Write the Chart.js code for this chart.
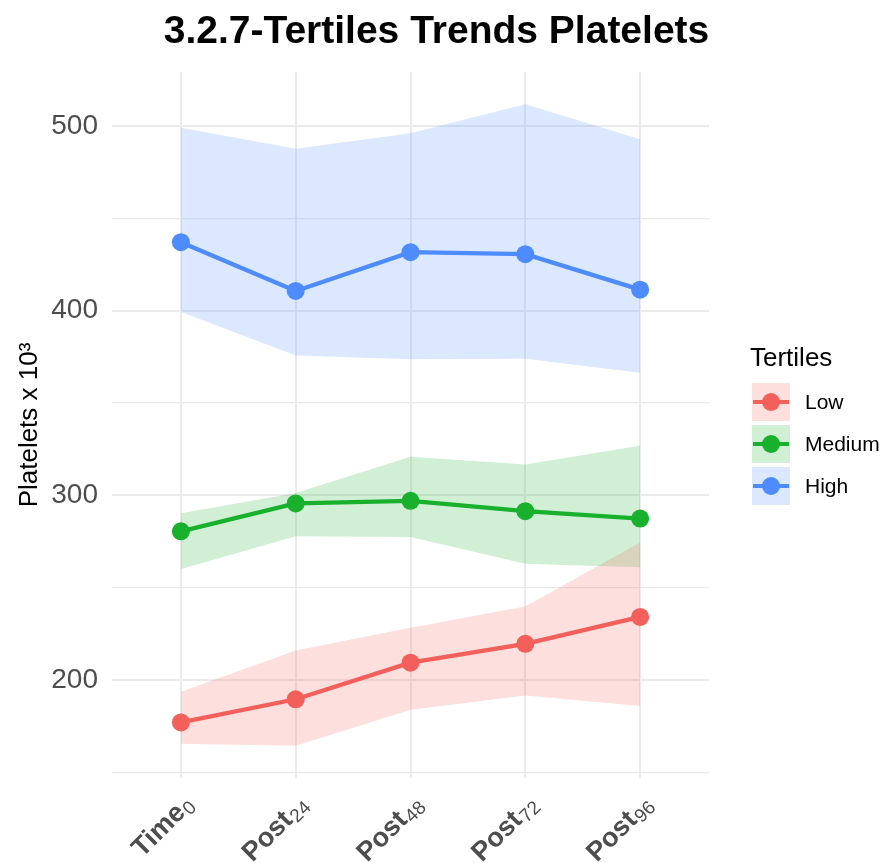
<!DOCTYPE html>
<html>
<head>
<meta charset="utf-8">
<script src="https://cdn.jsdelivr.net/npm/chart.js@4.4.1/dist/chart.umd.min.js"></script>
<style>
  html, body { margin: 0; padding: 0; background: #ffffff; }
  #wrap { width: 881px; height: 863px; position: relative; }
</style>
</head>
<body>
<div id="wrap"><canvas id="c"></canvas></div>
<script>
// ---- data ----
const categories = ['Time', 'Post', 'Post', 'Post', 'Post'];
const categorySubs = ['0', '24', '48', '72', '96'];
const seriesNames = ['Low', 'Medium', 'High'];
const lowMean  = [177.2, 189.7, 209.5, 219.7, 234.3];
const lowUpper = [193.8, 216.1, 228.4, 239.9, 274.6];
const lowLower = [165.7, 164.6, 184.1, 191.7, 186.1];
const medMean  = [280.6, 295.7, 297.1, 291.5, 287.5];
const medUpper = [290.4, 301.4, 320.9, 316.8, 326.9];
const medLower = [260.2, 277.9, 277.6, 263.0, 261.2];
const highMean  = [437.1, 410.7, 431.7, 430.6, 411.4];
const highUpper = [499.1, 487.7, 496.0, 511.8, 492.8];
const highLower = [399.3, 375.8, 373.8, 374.0, 366.4];
const yTickValues = [150, 200, 250, 300, 350, 400, 450, 500];

// ---- styles ----
const lineColors = ['#F35F5A', '#18B02D', '#4D8BFF'];
const ribbonColors = ['rgba(243,95,90,0.2)', 'rgba(24,176,45,0.2)', 'rgba(77,139,255,0.2)'];
const FONT = '"Liberation Sans", Arial, Helvetica, sans-serif';

const toXY = arr => arr.map((v, i) => ({ x: i + 1, y: v }));
const means = [lowMean, medMean, highMean];
const uppers = [lowUpper, medUpper, highUpper];
const lowers = [lowLower, medLower, highLower];

const datasets = [];
means.forEach((m, k) => {
  datasets.push({
    label: seriesNames[k], data: toXY(m),
    borderColor: lineColors[k], backgroundColor: lineColors[k],
    borderWidth: 4.3, pointRadius: 9, pointBorderWidth: 0,
    pointBackgroundColor: lineColors[k], fill: false, tension: 0
  });
});
uppers.forEach((u, k) => {
  datasets.push({
    label: seriesNames[k] + ' upper', data: toXY(u),
    borderWidth: 0, pointRadius: 0, borderColor: 'rgba(0,0,0,0)',
    backgroundColor: ribbonColors[k], fill: '+1', tension: 0
  });
  datasets.push({
    label: seriesNames[k] + ' lower', data: toXY(lowers[k]),
    borderWidth: 0, pointRadius: 0, borderColor: 'rgba(0,0,0,0)',
    backgroundColor: ribbonColors[k], fill: false, tension: 0
  });
});

const xLabelPlugin = {
  id: 'xLabels',
  afterDraw(chart) {
    const ctx = chart.ctx;
    const xs = chart.scales.x;
    const yTop = chart.chartArea.bottom + 14;
    ctx.save();
    ctx.fillStyle = '#4D4D4D';
    categories.forEach((lab, i) => {
      const px = xs.getPixelForValue(i + 1);
      ctx.save();
      ctx.translate(px, yTop);
      ctx.rotate(-Math.PI / 4);
      ctx.textBaseline = 'alphabetic';
      ctx.textAlign = 'left';
      const mainFont = 'bold 27px ' + FONT;
      const subFont = '19px ' + FONT;
      ctx.font = subFont;
      const sw = ctx.measureText(categorySubs[i]).width;
      ctx.font = mainFont;
      const mw = ctx.measureText(lab).width;
      const capH = 19.5;
      ctx.fillText(lab, -(sw + mw + 1), capH);
      ctx.font = subFont;
      ctx.fillText(categorySubs[i], -sw, capH + 4);
      ctx.restore();
    });
    ctx.restore();
  }
};

const legendPlugin = {
  id: 'customLegend',
  afterDraw(chart) {
    const ctx = chart.ctx;
    ctx.save();
    ctx.fillStyle = '#000000';
    ctx.font = '26px ' + FONT;
    ctx.textBaseline = 'alphabetic';
    ctx.textAlign = 'left';
    ctx.fillText('Tertiles', 750, 366);
    const keyX = 752, keyW = 38, keyH = 38;
    const keyTops = [383, 425, 467];
    seriesNames.forEach((name, k) => {
      const top = keyTops[k];
      const cy = top + keyH / 2;
      ctx.fillStyle = ribbonColors[k];
      ctx.fillRect(keyX, top, keyW, keyH);
      ctx.strokeStyle = lineColors[k];
      ctx.lineWidth = 4;
      ctx.beginPath();
      ctx.moveTo(keyX + 1, cy);
      ctx.lineTo(keyX + keyW - 1, cy);
      ctx.stroke();
      ctx.fillStyle = lineColors[k];
      ctx.beginPath();
      ctx.arc(keyX + keyW / 2, cy, 9, 0, Math.PI * 2);
      ctx.fill();
      ctx.fillStyle = '#000000';
      ctx.font = '21px ' + FONT;
      ctx.textBaseline = 'middle';
      ctx.fillText(name, 805, cy + 1);
    });
    ctx.restore();
  }
};

new Chart(document.getElementById('c'), {
  type: 'line',
  data: { datasets },
  plugins: [xLabelPlugin, legendPlugin],
  options: {
    responsive: true,
    maintainAspectRatio: false,
    animation: false,
    layout: { padding: { left: 0, right: 8, top: 0, bottom: 0 } },
    plugins: {
      legend: { display: false },
      tooltip: { enabled: false },
      title: {
        display: true,
        text: '3.2.7-Tertiles Trends Platelets',
        color: '#000000',
        font: { family: FONT, size: 39, weight: 'bold', lineHeight: 1.2 },
        padding: { top: 9, bottom: 16.2 }
      }
    },
    scales: {
      x: {
        type: 'linear', min: 0.4, max: 5.6,
        afterBuildTicks: s => { s.ticks = categories.map((c, i) => ({ value: i + 1 })); },
        afterFit: s => { s.height = 85; },
        ticks: { display: false },
        grid: { color: '#EBEBEB', lineWidth: 2, drawTicks: false },
        border: { display: false }
      },
      y: {
        type: 'linear', min: 147.1, max: 529.2,
        afterBuildTicks: s => { s.ticks = yTickValues.map(v => ({ value: v })); },
        afterFit: s => { s.width = 112; },
        ticks: {
          callback: v => (v % 100 === 0 ? String(v) : ''),
          color: '#4D4D4D', padding: 14,
          font: { family: FONT, size: 28 }
        },
        grid: {
          color: '#EBEBEB', drawTicks: false,
          lineWidth: c => (c.tick && c.tick.value % 100 === 0 ? 2 : 1.3)
        },
        border: { display: false },
        title: {
          display: true, text: 'Platelets x 10³', color: '#000000',
          font: { family: FONT, size: 26, lineHeight: 1.2 },
          padding: { top: 14, bottom: 0 }
        }
      },
      yR: {
        type: 'linear', position: 'right', display: true,
        afterFit: s => { s.width = 164; },
        ticks: { display: false },
        grid: { display: false, drawTicks: false },
        border: { display: false }
      }
    }
  }
});
</script>
</body>
</html>
